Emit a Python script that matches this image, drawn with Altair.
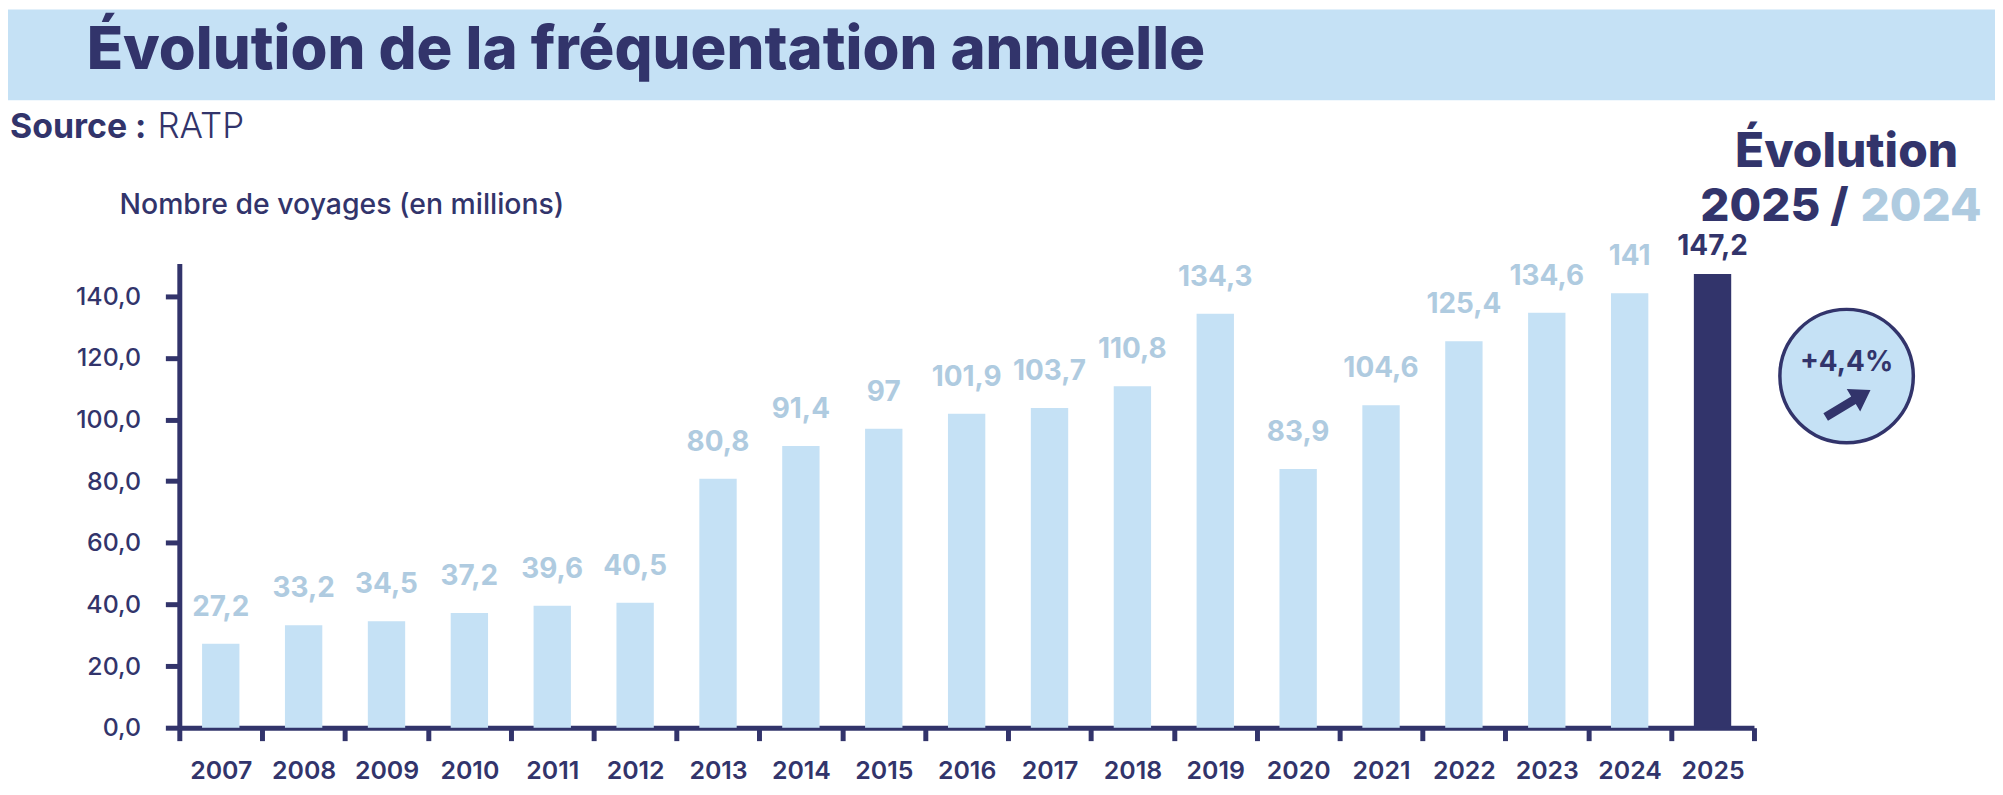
import altair as alt
import pandas as pd

# ---- data ----
years = ["2007", "2008", "2009", "2010", "2011", "2012", "2013", "2014", "2015", "2016",
         "2017", "2018", "2019", "2020", "2021", "2022", "2023", "2024", "2025"]
values = [27.2, 33.2, 34.5, 37.2, 39.6, 40.5, 80.8, 91.4, 97, 101.9,
          103.7, 110.8, 134.3, 83.9, 104.6, 125.4, 134.6, 141, 147.2]
highlight_year = "2025"
y_ticks = [0, 20, 40, 60, 80, 100, 120, 140]

title_text = "Évolution de la fréquentation annuelle"
source_bold = "Source :"
source_light = "RATP"
y_title = "Nombre de voyages (en millions)"
evo_line1 = "Évolution"
evo_cur = "2025 /"
evo_prev = "2024"
evo_pct = "+4,4%"

NAVY = "#32346B"
LIGHT = "#C5E1F5"
LABEL_LIGHT = "#AFCBE0"
FONT = "Inter"

df = pd.DataFrame({"year": years, "value": values})
df["label"] = [f"{v:g}".replace(".", ",") for v in values]
df["hl"] = df["year"] == highlight_year

one = pd.DataFrame({"a": [1]})

x_enc = alt.X(
    "year:N", sort=years, title=None,
    scale=alt.Scale(paddingInner=0, paddingOuter=0),
    axis=alt.Axis(
        domainColor=NAVY, domainWidth=5, tickColor=NAVY, tickWidth=5, tickSize=13,
        tickBand="extent", labelFont=FONT, labelFontSize=25, labelFontWeight=600,
        labelColor=NAVY, labelAngle=0, labelBaseline="alphabetic", labelPadding=38,
        grid=False,
    ),
)
y_enc = alt.Y(
    "value:Q", title=None,
    scale=alt.Scale(domain=[0, 150.6], nice=False, zero=True),
    axis=alt.Axis(
        values=y_ticks, labelExpr="replace(format(datum.value, '.1f'), '.', ',')",
        grid=False, domainColor=NAVY, domainWidth=5, tickColor=NAVY, tickWidth=5,
        tickSize=14, labelPadding=25, labelFont=FONT, labelFontSize=25,
        labelFontWeight=500, labelColor=NAVY,
    ),
)

bars = alt.Chart(df).mark_bar(width=37.5).encode(
    x=x_enc, y=y_enc,
    color=alt.condition("datum.hl", alt.value(NAVY), alt.value(LIGHT)),
)

labels_light = alt.Chart(df).transform_filter("!datum.hl").mark_text(
    dy=-28, baseline="alphabetic", font=FONT, fontSize=28, fontWeight=700, color=LABEL_LIGHT
).encode(x=x_enc, y=y_enc, text="label:N")

labels_hl = alt.Chart(df).transform_filter("datum.hl").mark_text(
    dy=-19, baseline="alphabetic", font=FONT, fontSize=28, fontWeight=700, color=NAVY
).encode(x=x_enc, y=y_enc, text="label:N")


def txt(text, x, y, size, weight, color=NAVY, align="left"):
    return alt.Chart(one).mark_text(
        text=text, align=align, baseline="alphabetic", font=FONT,
        fontSize=size, fontWeight=weight, color=color,
    ).encode(x=alt.value(x), y=alt.value(y))


band = alt.Chart(one).mark_rect(color=LIGHT).encode(
    x=alt.value(-172), x2=alt.value(1823), y=alt.value(-255), y2=alt.value(-164)
)

title = txt(title_text, -93, -195, 60, 800)
src1 = txt(source_bold, -170, -126, 34, 700)
src2 = txt(source_light, -22, -126, 35, 300)
ytitle = txt(y_title, -60, -50, 28.5, 500)
evo1 = txt(evo_line1, 1674, -97, 48, 800, align="center")
evo2 = txt(evo_cur, 1676, -43, 46, 800, align="right")
evo3 = txt(evo_prev, 1688, -43, 46, 800, color=LABEL_LIGHT, align="left")

circle = alt.Chart(one).mark_arc(
    radius=67, theta=0, theta2=6.2832, fill=LIGHT, stroke=NAVY, strokeWidth=3.5
).encode(x=alt.value(1674), y=alt.value(113))
pct = txt(evo_pct, 1674, 108, 28, 700, align="center")

ARROW = "M-1,-0.17 L0.24,-0.17 L0.24,-0.5 L1,0 L0.24,0.5 L0.24,0.17 L-1,0.17 Z"
arrow = alt.Chart(one).mark_point(
    shape=ARROW, size=2756, filled=True, color=NAVY, opacity=1, angle=329, strokeWidth=0
).encode(x=alt.value(1675.5), y=alt.value(140.5))

chart = alt.layer(
    band, bars, labels_light, labels_hl, title, src1, src2, ytitle,
    evo1, evo2, evo3, circle, pct, arrow,
).properties(
    width=1581, height=466,
    padding={"left": 172, "top": 255, "right": 242, "bottom": 66},
    autosize=alt.AutoSizeParams(type="none"),
    background="white",
).configure_view(stroke=None)

chart.save("out.html", embed_options={"renderer": "svg", "actions": False})
